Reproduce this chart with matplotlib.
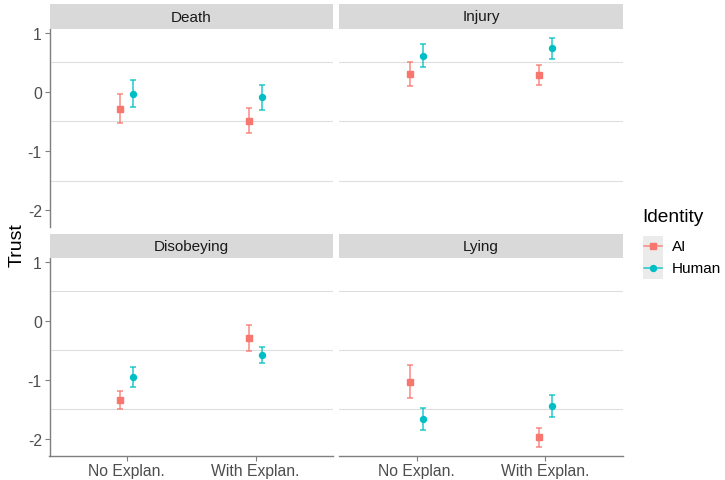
import matplotlib
matplotlib.use("Agg")
import matplotlib.pyplot as plt
from matplotlib.lines import Line2D

plt.rcParams['font.family'] = ['Liberation Sans', 'DejaVu Sans']
plt.rcParams['axes.unicode_minus'] = False

facets = ["Death", "Injury", "Disobeying", "Lying"]
conditions = ["No Explan.", "With Explan."]
identities = ["AI", "Human"]

ai_mean = [[-0.29, -0.495], [0.295, 0.282], [-1.345, -0.294], [-1.031, -1.975]]
ai_low = [[-0.535, -0.70], [0.09, 0.108], [-1.49, -0.514], [-1.314, -2.133]]
ai_high = [[-0.044, -0.28], [0.497, 0.45], [-1.198, -0.073], [-0.743, -1.816]]

hu_mean = [[-0.034, -0.09], [0.608, 0.733], [-0.955, -0.582], [-1.664, -1.444]]
hu_low = [[-0.258, -0.30], [0.41, 0.557], [-1.124, -0.718], [-1.85, -1.63]]
hu_high = [[0.203, 0.118], [0.80, 0.90], [-0.785, -0.446], [-1.483, -1.263]]

colors = {"AI": "#F8766D", "Human": "#00BFC4"}
markers = {"AI": "s", "Human": "o"}

W, H = 725, 481
fig = plt.figure(figsize=(W / 100, H / 100), dpi=100)


def rect(x0, y0, x1, y1):
    return [x0 / W, 1 - y1 / H, (x1 - x0) / W, (y1 - y0) / H]


panels = [(49.5, 30, 333, 228), (339.3, 30, 622.7, 228),
          (49.5, 259, 333, 456.7), (339.3, 259, 622.7, 456.7)]
strips = [(49.5, 5, 333, 30), (339.3, 5, 622.7, 30),
          (49.5, 235, 333, 259), (339.3, 235, 622.7, 259)]

xpos = [1, 2]
dodge = 0.05
axis_col = "#7F7F7F"
text_col = "#4D4D4D"

for i, name in enumerate(facets):
    row, col = divmod(i, 2)
    ax = fig.add_axes(rect(*panels[i]))
    ax.set_xlim(0.4, 2.6)
    ax.set_ylim(-2.285, 1.06)
    for ident, mean, lo, hi, off in [("AI", ai_mean, ai_low, ai_high, -dodge),
                                     ("Human", hu_mean, hu_low, hu_high, dodge)]:
        xs = [x + off for x in xpos]
        m = mean[i]
        yerr = [[m[k] - lo[i][k] for k in range(2)], [hi[i][k] - m[k] for k in range(2)]]
        ax.errorbar(xs, m, yerr=yerr, fmt='none', ecolor=colors[ident],
                    elinewidth=1.1, capsize=2.0, capthick=1.1, alpha=0.85, zorder=3)
        ax.plot(xs, m, linestyle='none', marker=markers[ident], color=colors[ident],
                markersize=4.3, zorder=4)
    ax.set_yticks([-2, -1, 0, 1])
    ax.set_yticks([-1.5, -0.5, 0.5], minor=True)
    ax.grid(False)
    ax.yaxis.grid(True, which='minor', color='#DEDEDE', linewidth=0.8)
    ax.set_axisbelow(True)
    for s in ['top', 'right']:
        ax.spines[s].set_visible(False)
    ax.spines['left'].set_visible(col == 0)
    ax.spines['bottom'].set_visible(row == 1)
    ax.spines['left'].set_color(axis_col)
    ax.spines['bottom'].set_color(axis_col)
    ax.spines['left'].set_linewidth(1.0)
    ax.spines['bottom'].set_linewidth(1.0)
    ax.tick_params(axis='y', which='minor', length=0)
    if col == 0:
        ax.tick_params(axis='y', which='major', length=3.5, color=axis_col,
                       labelsize=11.3, labelcolor=text_col, pad=2)
    else:
        ax.tick_params(axis='y', which='major', left=False, labelleft=False)
    ax.set_xticks(xpos)
    if row == 1:
        ax.set_xticklabels(conditions)
        ax.tick_params(axis='x', length=3.5, color=axis_col, labelsize=11.3,
                       labelcolor=text_col, pad=2)
    else:
        ax.tick_params(axis='x', bottom=False, labelbottom=False)

    sax = fig.add_axes(rect(*strips[i]))
    sax.set_facecolor('#D9D9D9')
    sax.set_xticks([])
    sax.set_yticks([])
    for s in sax.spines.values():
        s.set_visible(False)
    sax.text(0.5, 0.5, name, ha='center', va='center', fontsize=11,
             color='#1A1A1A', transform=sax.transAxes)

fig.text(17 / W, 1 - 245 / H, "Trust", rotation=90, ha='center', va='center',
         fontsize=14, color='black')

# Legend
fig.text(642 / W, 1 - 218 / H, "Identity", ha='left', va='center', fontsize=13.8,
         color='black')
for k, ident in enumerate(identities):
    yc = 247.3 + k * 21.7
    kax = fig.add_axes(rect(642.7, yc - 10.8, 663.3, yc + 10.8))
    kax.set_facecolor('#EBEBEB')
    kax.set_xlim(0, 1)
    kax.set_ylim(0, 1)
    kax.set_xticks([])
    kax.set_yticks([])
    for s in kax.spines.values():
        s.set_visible(False)
    kax.add_line(Line2D([0.05, 0.95], [0.5, 0.5], color=colors[ident], lw=1.1, alpha=0.85))
    kax.plot([0.5], [0.5], marker=markers[ident], color=colors[ident], markersize=4.3)
    fig.text(672 / W, 1 - yc / H, ident, ha='left', va='center', fontsize=11,
             color='black')

fig.savefig("out.png", dpi=100)
